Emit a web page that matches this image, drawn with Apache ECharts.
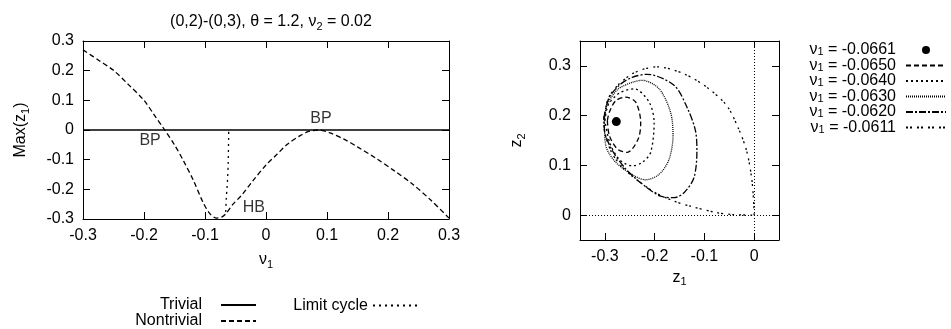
<!DOCTYPE html>
<html><head><meta charset="utf-8">
<script src="https://cdn.jsdelivr.net/npm/echarts@6/dist/echarts.min.js"></script>
<style>html,body{margin:0;padding:0;background:#fff}#c{width:951px;height:329px}</style>
</head><body><div id="c"></div>
<script>
const FONT = 'Liberation Sans, Arial, Helvetica, sans-serif';

// ---------- Left panel: Max(z1) vs nu1 ----------
const trivial = [[-0.3, 0], [0.3, 0]];
const nontrivial = [
  [-0.300, 0.270], [-0.275, 0.236], [-0.250, 0.201], [-0.225, 0.152], [-0.200, 0.100],
  [-0.183, 0.050], [-0.166, 0.000], [-0.150, -0.050], [-0.135, -0.105], [-0.119, -0.170],
  [-0.103, -0.245], [-0.092, -0.282], [-0.081, -0.297], [-0.072, -0.293], [-0.065, -0.280],
  [-0.054, -0.250], [-0.040, -0.220], [-0.021, -0.170], [0.000, -0.118], [0.018, -0.082],
  [0.035, -0.048], [0.056, -0.019], [0.070, -0.005], [0.086, 0.000], [0.105, -0.010],
  [0.127, -0.030], [0.150, -0.057], [0.180, -0.095], [0.210, -0.137], [0.240, -0.182],
  [0.270, -0.236], [0.300, -0.297]
];
const limitCycle = [[-0.0661, -0.276], [-0.0650, -0.228], [-0.0640, -0.198], [-0.0630, -0.165], [-0.0620, -0.112], [-0.0611, 0.000]];
const annotations = [['BP', -0.190, -0.037], ['BP', 0.090, 0.037], ['HB', -0.020, -0.263]];

// ---------- Right panel: phase portraits (z1, z2) ----------
const orbitLabels = ['-0.0661', '-0.0650', '-0.0640', '-0.0630', '-0.0620', '-0.0611'];
const equilibrium = [[-0.277, 0.188]];
const orbit0650 = [[-0.295,0.190],[-0.291,0.207],[-0.278,0.230],[-0.258,0.237],[-0.238,0.227],[-0.228,0.186],[-0.233,0.153],[-0.255,0.126],[-0.275,0.133],[-0.291,0.160],[-0.295,0.190]];
const orbit0640 = [[-0.300,0.190],[-0.293,0.222],[-0.270,0.246],[-0.241,0.254],[-0.211,0.227],[-0.201,0.186],[-0.208,0.126],[-0.225,0.106],[-0.245,0.099],[-0.271,0.112],[-0.290,0.145],[-0.300,0.190]];
const orbit0630 = [[-0.301,0.185],[-0.296,0.220],[-0.275,0.252],[-0.245,0.267],[-0.225,0.271],[-0.191,0.254],[-0.168,0.207],[-0.163,0.160],[-0.171,0.112],[-0.191,0.082],[-0.218,0.071],[-0.241,0.079],[-0.278,0.106],[-0.298,0.139],[-0.301,0.185]];
const orbit0620 = [[-0.302,0.195],[-0.292,0.235],[-0.270,0.262],[-0.245,0.277],[-0.215,0.283],[-0.161,0.261],[-0.135,0.217],[-0.118,0.170],[-0.115,0.129],[-0.121,0.075],[-0.141,0.045],[-0.161,0.035],[-0.188,0.038],[-0.228,0.065],[-0.260,0.095],[-0.285,0.130],[-0.300,0.165],[-0.302,0.195]];
const orbit0611 = [[-0.302,0.195],[-0.293,0.235],[-0.272,0.263],[-0.245,0.284],[-0.220,0.294],[-0.195,0.298],[-0.141,0.284],[-0.095,0.257],[-0.055,0.220],[-0.031,0.173],[-0.015,0.129],[-0.005,0.075],[-0.001,0.028],[0,0],[-0.041,0.001],[-0.075,0.005],[-0.128,0.018],[-0.161,0.028],[-0.200,0.046],[-0.241,0.075],[-0.268,0.100],[-0.286,0.125],[-0.300,0.165],[-0.302,0.195]];
const rightXTicks = [-0.3, -0.2, -0.1, 0];
const rightYTicks = [0, 0.1, 0.2, 0.3];

const FS = 16;
const fmt = v => { const r = Math.round(v * 10) / 10; return r === 0 ? '0' : r.toFixed(1); };
const RICH = {
  a: { fontFamily: FONT, fontSize: FS, color: '#000' },
  s: { fontFamily: FONT, fontSize: 11, color: '#000', verticalAlign: 'bottom', padding: [9, 0, 0, 0] }
};
const nuName = n => '{a|ν}{s|' + n + '}';

function axisBase(extra) {
  return Object.assign({
    type: 'value',
    axisLine: { show: true, onZero: false, lineStyle: { color: '#000', width: 1 } },
    axisTick: { show: true, inside: true, length: 7, lineStyle: { color: '#000' } },
    splitLine: { show: false },
    axisLabel: { show: true, color: '#000', fontFamily: FONT, fontSize: FS, margin: 9, formatter: fmt },
    nameTextStyle: { rich: RICH }
  }, extra);
}
function mirror(base, pos) {
  const m = JSON.parse(JSON.stringify(base));
  m.position = pos; m.axisLabel = { show: false }; m.name = '';
  return m;
}

const lx = axisBase({ min: -0.3, max: 0.3, interval: 0.1, position: 'bottom',
  name: nuName(1), nameLocation: 'middle', nameGap: 31 });
const ly = axisBase({ min: -0.3, max: 0.3, interval: 0.1, position: 'left',
  name: '{a|Max(z}{s|1}{a|)}', nameLocation: 'middle', nameGap: 52, nameRotate: 90 });
const rx = axisBase({ min: -0.35, max: 0.05, interval: 0.05, position: 'bottom',
  name: '{a|z}{s|1}', nameLocation: 'middle', nameGap: 27 });
rx.axisLabel.customValues = rightXTicks; rx.axisTick.customValues = rightXTicks;
const ry = axisBase({ min: -0.05, max: 0.35, interval: 0.05, position: 'left',
  name: '{a|z}{s|2}', nameLocation: 'middle', nameGap: 53, nameRotate: 90 });
ry.axisLabel.customValues = rightYTicks; ry.axisTick.customValues = rightYTicks;

const lineS = (name, data, xi, yi, type, width) => ({
  name, type: 'line', data, xAxisIndex: xi, yAxisIndex: yi, symbol: 'none', smooth: 0.3,
  lineStyle: { color: '#000', width: width || 1.3, type }, itemStyle: { color: '#000' },
  silent: true, animation: false, z: 3
});

const orbitNames = orbitLabels.map(l => 'ν1 = ' + l);
const orbitData = [orbit0650, orbit0640, orbit0630, orbit0620, orbit0611];
const orbitDash = [[5, 3], [2, 3], [1, 1], [7, 2, 2, 2], [2, 2, 2, 5]];

const series = [
  lineS('Trivial', trivial, 0, 0, 'solid', 1.5),
  lineS('Nontrivial', nontrivial, 0, 0, [5, 3], 1.3),
  lineS('Limit cycle', limitCycle, 0, 0, [2, 4], 1.3),
  {
    type: 'scatter', xAxisIndex: 0, yAxisIndex: 0, symbolSize: 0, silent: true, animation: false,
    data: annotations.map(a => ({ value: [a[1], a[2]], name: a[0] })),
    label: { show: true, position: 'inside', formatter: p => p.name, color: '#000', fontFamily: FONT, fontSize: FS }
  },
  {
    name: orbitNames[0], type: 'line', data: equilibrium, xAxisIndex: 2, yAxisIndex: 2,
    symbol: 'circle', symbolSize: 9, showSymbol: true, lineStyle: { width: 0 }, itemStyle: { color: '#000' },
    silent: true, animation: false, z: 4,
    markLine: {
      silent: true, symbol: ['none', 'none'], animation: false,
      lineStyle: { color: '#000', width: 1, type: [1, 2] }, label: { show: false },
      data: [{ xAxis: 0 }, { yAxis: 0 }]
    }
  }
];
orbitData.forEach((d, i) => series.push(lineS(orbitNames[i + 1], d, 2, 2, orbitDash[i], 1.3)));

const legendText = { fontFamily: FONT, fontSize: FS, color: '#000', lineHeight: 15, rich: RICH };
const lineLegendItem = n => ({ name: n, itemStyle: { opacity: 0 } });

const option = {
  animation: false,
  backgroundColor: '#fff',
  title: {
    text: '{a|(0,2)-(0,3), θ = 1.2, }{a|ν}{s|2}{a| = 0.02}',
    left: 266, top: 7, textAlign: 'center',
    textStyle: { fontFamily: FONT, fontSize: FS, fontWeight: 'normal', color: '#000', rich: RICH }
  },
  grid: [
    { left: 83, right: 502, top: 41, bottom: 110 },
    { left: 580, right: 172, top: 41, bottom: 89 }
  ],
  xAxis: [lx, mirror(lx, 'top'), rx, mirror(rx, 'top')].map((a, i) => { a.gridIndex = i < 2 ? 0 : 1; return a; }),
  yAxis: [ly, mirror(ly, 'right'), ry, mirror(ry, 'right')].map((a, i) => { a.gridIndex = i < 2 ? 0 : 1; return a; }),
  legend: [
    {
      data: ['Trivial', 'Nontrivial'].map(lineLegendItem), orient: 'vertical', align: 'right',
      right: 694, bottom: 0, padding: 0, itemGap: 0, itemWidth: 35, itemHeight: 10,
      selectedMode: false, textStyle: Object.assign({ padding: [0, 14, 0, 0] }, legendText)
    },
    {
      data: ['Limit cycle'].map(lineLegendItem), orient: 'vertical', align: 'right',
      right: 531, bottom: 15.5, padding: 0, itemWidth: 46, itemHeight: 10,
      selectedMode: false, textStyle: Object.assign({}, legendText)
    },
    {
      data: [{ name: orbitNames[0] }].concat(orbitNames.slice(1).map(lineLegendItem)),
      orient: 'vertical', align: 'right', right: 4, top: 42, padding: 0, itemGap: -0.5,
      itemWidth: 40, itemHeight: 10, selectedMode: false,
      formatter: n => '{a|ν}{s|1}{a| = ' + n.split('= ')[1] + '}',
      textStyle: Object.assign({ padding: [0, 5, 0, 0] }, legendText)
    }
  ],
  series
};
echarts.init(document.getElementById('c'), null, { renderer: 'canvas' }).setOption(option);
</script>
</body></html>
